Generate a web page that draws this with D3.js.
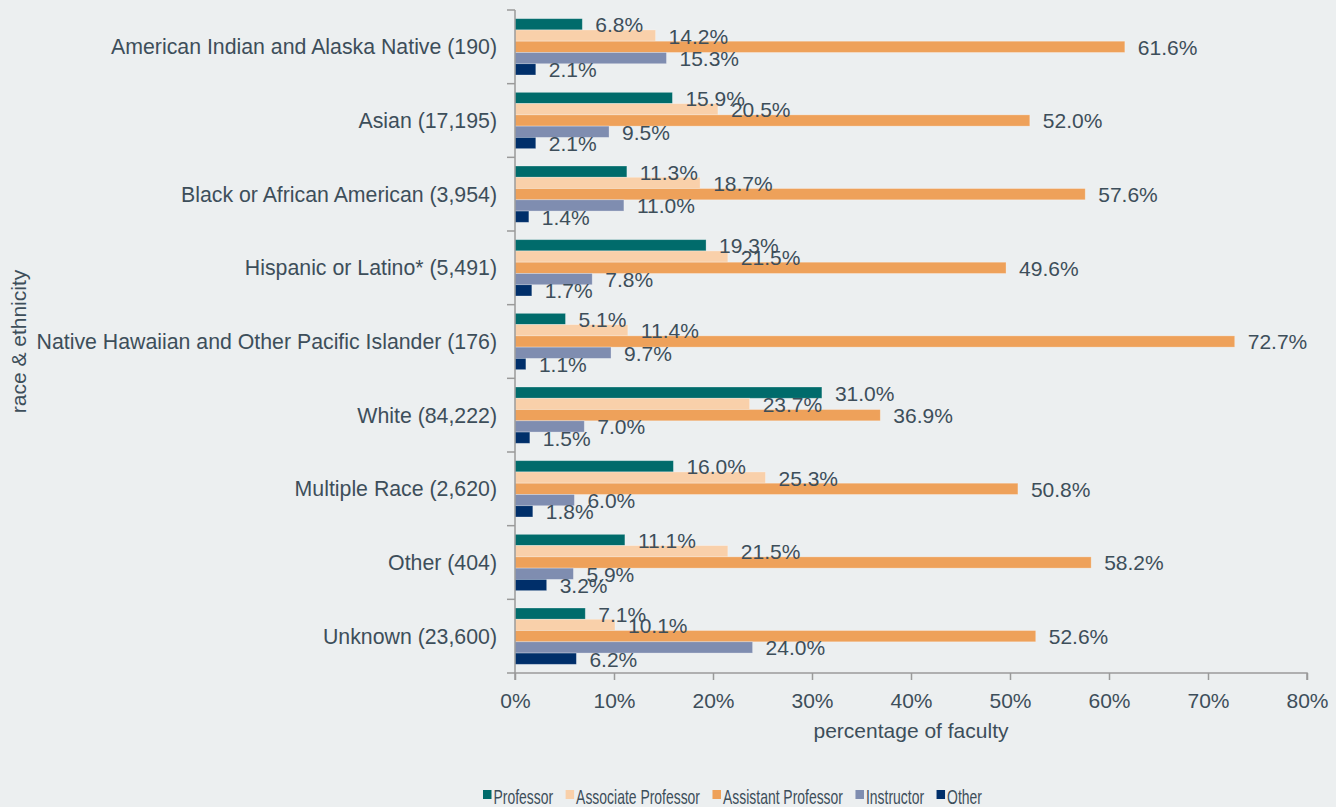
<!DOCTYPE html>
<html><head><meta charset="utf-8">
<script src="https://cdn.jsdelivr.net/npm/d3@7"></script>
<style>
html,body{margin:0;padding:0;background:#ECEFF0;}
svg{display:block;font-family:"Liberation Sans",Arial,sans-serif;}
</style></head><body>
<svg id="chart" width="1336" height="807"></svg>
<script>
const categories = [
  "American Indian and Alaska Native (190)",
  "Asian (17,195)",
  "Black or African American (3,954)",
  "Hispanic or Latino* (5,491)",
  "Native Hawaiian and Other Pacific Islander (176)",
  "White (84,222)",
  "Multiple Race (2,620)",
  "Other (404)",
  "Unknown (23,600)"
];
const seriesNames = ["Professor","Associate Professor","Assistant Professor","Instructor","Other"];
const professor = [6.8,15.9,11.3,19.3,5.1,31.0,16.0,11.1,7.1];
const associate = [14.2,20.5,18.7,21.5,11.4,23.7,25.3,21.5,10.1];
const assistant = [61.6,52.0,57.6,49.6,72.7,36.9,50.8,58.2,52.6];
const instructor = [15.3,9.5,11.0,7.8,9.7,7.0,6.0,5.9,24.0];
const other = [2.1,2.1,1.4,1.7,1.1,1.5,1.8,3.2,6.2];
const xTicks = [0,10,20,30,40,50,60,70,80];
const colors = ["#006B6B","#F9D0AA","#EEA15A","#7F8DB0","#002F6A"];

const seriesValues = [professor, associate, assistant, instructor, other];
const textColor = "#3D4E5A";
const FS = 21;
const svg = d3.select("#chart");
const L = 515, R = 1307, T = 10, B = 673;

const x = d3.scaleLinear().domain([0,80]).range([L,R]);
const y = d3.scaleBand().domain(categories).range([T,B]).padding(0);
const ys = d3.scaleBand().domain(seriesNames).range([0,y.bandwidth()]).paddingOuter(0.77).paddingInner(0);

// bars
categories.forEach((c,ci)=>{
  const g = svg.append("g").attr("transform",`translate(0,${y(c)})`);
  seriesNames.forEach((s,si)=>{
    const v = seriesValues[si][ci];
    g.append("rect")
      .attr("x", x(0)).attr("y", ys(s))
      .attr("width", x(v)-x(0)).attr("height", ys.bandwidth())
      .attr("fill", colors[si])
      .attr("stroke","rgba(255,255,255,0.35)").attr("stroke-width",0.8);
  });
  seriesNames.forEach((s,si)=>{
    const v = seriesValues[si][ci];
    g.append("text")
      .attr("x", x(v)+13).attr("y", ys(s)+ys.bandwidth()/2+8)
      .attr("fill", textColor).attr("font-size",FS)
      .text(v.toFixed(1)+"%");
  });
});

// y axis
const yAxis = d3.axisLeft(y).tickSize(8).tickSizeOuter(8).tickFormat("");
const yg = svg.append("g").attr("transform",`translate(${L},0)`).call(yAxis);
yg.selectAll(".tick").remove();
const bounds = categories.map(c=>y(c)).concat([B]);
yg.selectAll(".bt").data(bounds).enter().append("line")
  .attr("x1",-8).attr("x2",0).attr("y1",d=>d).attr("y2",d=>d);
yg.selectAll("path,line").attr("stroke","#9A9A9A").attr("stroke-width",1.5);
yg.select("path").attr("d",`M0,${T}V${B}`);
svg.selectAll(".catlab").data(categories).enter().append("text")
  .attr("x",497).attr("y",d=>y(d)+y.bandwidth()/2+7.5)
  .attr("text-anchor","end").attr("fill",textColor).attr("font-size",21.3)
  .text(d=>d);

// x axis
const xAxis = d3.axisBottom(x).tickValues(xTicks).tickSize(7).tickSizeOuter(7).tickFormat(d=>d+"%");
const xg = svg.append("g").attr("transform",`translate(0,${B})`).call(xAxis);
xg.selectAll("path,line").attr("stroke","#9A9A9A").attr("stroke-width",1.5);
xg.select("path").attr("d",`M${L},7V0H${R}V7`);
xg.selectAll("text").attr("fill",textColor).attr("font-size",FS)
  .attr("font-family","Liberation Sans, Arial, sans-serif").attr("y",0).attr("dy",0)
  .attr("transform","translate(0,35)");

svg.append("text").attr("x",(L+R)/2).attr("y",738).attr("text-anchor","middle")
  .attr("fill",textColor).attr("font-size",FS).text("percentage of faculty");
svg.append("text").attr("transform",`translate(26,${(T+B)/2}) rotate(-90)`)
  .attr("text-anchor","middle").attr("fill",textColor).attr("font-size",FS).text("race & ethnicity");

// legend (condensed text)
const lg = svg.append("g");
const sx = 0.68;
let lx = 483;
seriesNames.forEach((s,i)=>{
  lg.append("rect").attr("x",lx).attr("y",790).attr("width",8.5).attr("height",9).attr("fill",colors[i]);
  const tx = lx + 10.5;
  const t = lg.append("text").attr("transform",`translate(${tx},803.5) scale(${sx},1)`)
    .attr("fill",textColor).attr("font-size",20.5).text(s);
  lx = tx + t.node().getComputedTextLength()*sx + 12.5;
});
</script></body></html>
